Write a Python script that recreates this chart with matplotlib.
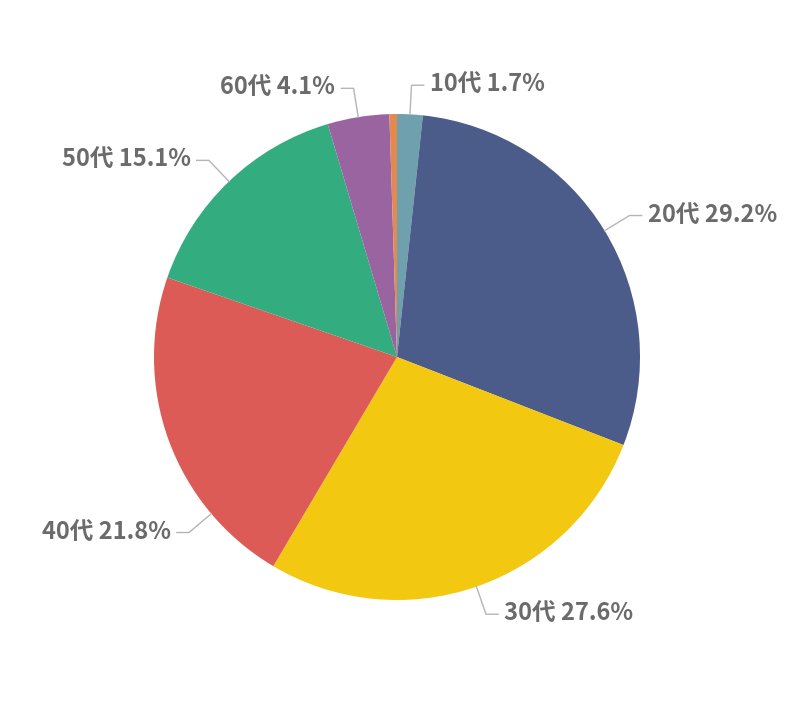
import numpy as np
import matplotlib.pyplot as plt

plt.rcParams['font.family'] = ['Noto Sans CJK JP', 'DejaVu Sans']

# 年代別の割合 (%)
ages = ['10代', '20代', '30代', '40代', '50代', '60代', '70代']
shares = [1.7, 29.2, 27.6, 21.8, 15.1, 4.1, 0.5]
colors = ['#6fa0ae', '#4b5b8a', '#f2c811', '#dc5b56', '#33ad80', '#9a64a0', '#e28a50']
show_label = [True, True, True, True, True, True, False]

fig = plt.figure(figsize=(8, 7.06), dpi=100)
# 円の中心 (397,357) px、半径 243 px
ax = fig.add_axes([154 / 800, 106 / 706, 486 / 800, 486 / 706])
wedges, _ = ax.pie(shares, colors=colors, startangle=90, counterclock=False,
                   radius=1.0, wedgeprops=dict(linewidth=0))
ax.set_xlim(-1, 1)
ax.set_ylim(-1, 1)
ax.set_aspect('equal')
ax.axis('off')

nudge = {'40代': 20}  # ラベル位置の微調整(度)
for w, name, val, show in zip(wedges, ages, shares, show_label):
    if not show:
        continue
    ang = (w.theta1 + w.theta2) / 2 + nudge.get(name, 0)
    c, s = np.cos(np.radians(ang)), np.sin(np.radians(ang))
    x0, y0 = 1.0 * c, 1.0 * s
    x1, y1 = 1.12 * c, 1.12 * s
    side = 1 if c >= 0 else -1
    x2 = x1 + side * 0.05
    ax.plot([x0, x1, x2], [y0, y1, y1], color='#b5b5b5', lw=1, clip_on=False)
    ax.text(x2 + side * 0.025, y1, f'{name} {val}%', ha='left' if side > 0 else 'right',
            va='center', fontsize=17, fontweight='bold', color='#6b6b6b')

fig.savefig('out.png', dpi=100, facecolor='white')
